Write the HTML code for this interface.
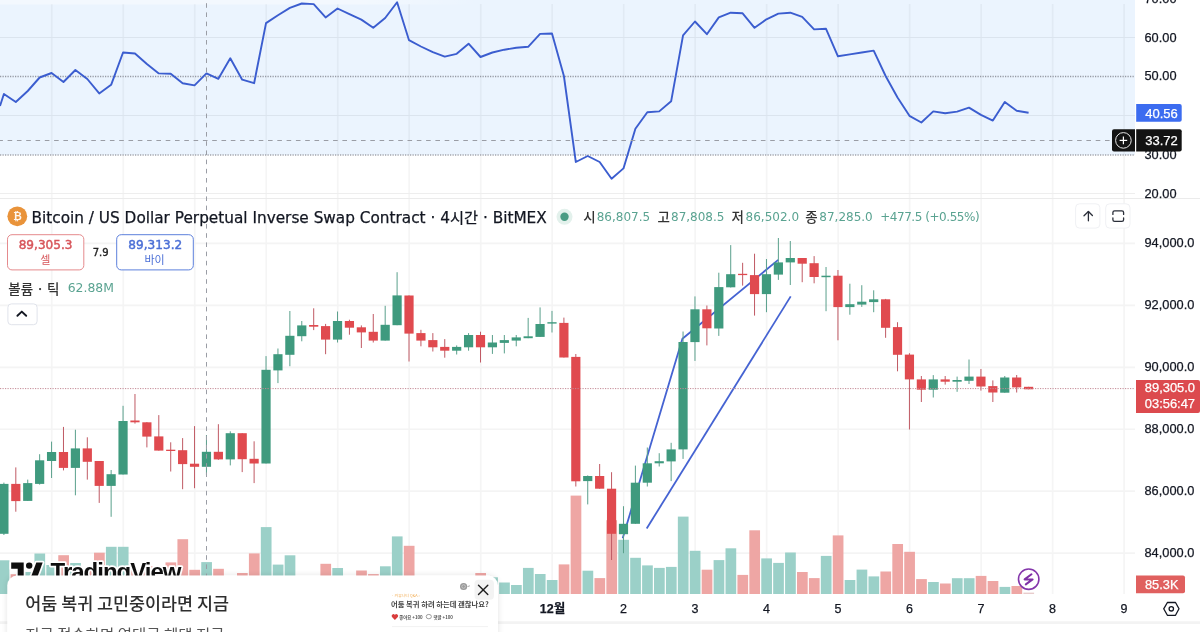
<!DOCTYPE html>
<html><head><meta charset="utf-8">
<style>
html,body{margin:0;padding:0;background:#fff;}
body{width:1200px;height:632px;overflow:hidden;position:relative;font-family:'Liberation Sans', 'Noto Sans CJK KR', sans-serif;}
svg{position:absolute;left:0;top:0;}

.abs{position:absolute;}
</style></head><body>
<svg width="1200" height="632" viewBox="0 0 1200 632" font-family="'Liberation Sans', 'Noto Sans CJK KR', sans-serif">
<line x1="51.76" y1="4" x2="51.76" y2="594" stroke="#f5f5f5" stroke-width="1.7"/>
<line x1="123.25" y1="4" x2="123.25" y2="594" stroke="#f5f5f5" stroke-width="1.7"/>
<line x1="194.74" y1="4" x2="194.74" y2="594" stroke="#f5f5f5" stroke-width="1.7"/>
<line x1="266.23" y1="4" x2="266.23" y2="594" stroke="#f5f5f5" stroke-width="1.7"/>
<line x1="337.72" y1="4" x2="337.72" y2="594" stroke="#f5f5f5" stroke-width="1.7"/>
<line x1="409.21" y1="4" x2="409.21" y2="594" stroke="#f5f5f5" stroke-width="1.7"/>
<line x1="480.7" y1="4" x2="480.7" y2="594" stroke="#f5f5f5" stroke-width="1.7"/>
<line x1="552.19" y1="4" x2="552.19" y2="594" stroke="#f5f5f5" stroke-width="1.7"/>
<line x1="623.68" y1="4" x2="623.68" y2="594" stroke="#f5f5f5" stroke-width="1.7"/>
<line x1="695.17" y1="4" x2="695.17" y2="594" stroke="#f5f5f5" stroke-width="1.7"/>
<line x1="766.66" y1="4" x2="766.66" y2="594" stroke="#f5f5f5" stroke-width="1.7"/>
<line x1="838.15" y1="4" x2="838.15" y2="594" stroke="#f5f5f5" stroke-width="1.7"/>
<line x1="909.64" y1="4" x2="909.64" y2="594" stroke="#f5f5f5" stroke-width="1.7"/>
<line x1="981.13" y1="4" x2="981.13" y2="594" stroke="#f5f5f5" stroke-width="1.7"/>
<line x1="1052.62" y1="4" x2="1052.62" y2="594" stroke="#f5f5f5" stroke-width="1.7"/>
<line x1="1124.11" y1="4" x2="1124.11" y2="594" stroke="#f5f5f5" stroke-width="1.7"/>
<line x1="0" y1="37.5" x2="1135" y2="37.5" stroke="#eeeeee" stroke-width="1"/>
<line x1="0" y1="115.5" x2="1135" y2="115.5" stroke="#eeeeee" stroke-width="1"/>
<line x1="0" y1="193.5" x2="1135" y2="193.5" stroke="#eeeeee" stroke-width="1"/>
<line x1="0" y1="243.4" x2="1135" y2="243.4" stroke="#f4f4f4" stroke-width="1.7"/>
<line x1="0" y1="305.35" x2="1135" y2="305.35" stroke="#f4f4f4" stroke-width="1.7"/>
<line x1="0" y1="367.3" x2="1135" y2="367.3" stroke="#f4f4f4" stroke-width="1.7"/>
<line x1="0" y1="429.25" x2="1135" y2="429.25" stroke="#f4f4f4" stroke-width="1.7"/>
<line x1="0" y1="491.2" x2="1135" y2="491.2" stroke="#f4f4f4" stroke-width="1.7"/>
<line x1="0" y1="553.15" x2="1135" y2="553.15" stroke="#f4f4f4" stroke-width="1.7"/>
<rect x="0" y="0" width="1135" height="155" fill="rgb(33,130,240)" fill-opacity="0.09"/>
<defs><linearGradient id="tg" x1="0" x2="1" y1="0" y2="0"><stop offset="0" stop-color="#fff" stop-opacity="0.4"/><stop offset="0.75" stop-color="#fff" stop-opacity="0.4"/><stop offset="1" stop-color="#fff" stop-opacity="0"/></linearGradient></defs><rect x="0" y="0" width="480" height="4.5" fill="url(#tg)"/>
<line x1="0" y1="76.5" x2="1135" y2="76.5" stroke="#979aa4" stroke-width="1.3" stroke-dasharray="1.25 1.25"/>
<line x1="0" y1="155" x2="1135" y2="155" stroke="#a3a5ad" stroke-width="1.6" stroke-dasharray="1.25 1.25"/>
<line x1="0" y1="198.5" x2="1200" y2="198.5" stroke="#ebebeb" stroke-width="1"/>
<rect x="-1.3" y="560.3" width="10.7" height="33.7" fill="#9bd0c8"/>
<rect x="10.61" y="574.2" width="10.7" height="19.8" fill="#eea6a4"/>
<rect x="22.53" y="572" width="10.7" height="22" fill="#9bd0c8"/>
<rect x="34.44" y="553.5" width="10.7" height="40.5" fill="#9bd0c8"/>
<rect x="46.36" y="565" width="10.7" height="29" fill="#9bd0c8"/>
<rect x="58.27" y="555.2" width="10.7" height="38.8" fill="#eea6a4"/>
<rect x="70.19" y="563" width="10.7" height="31" fill="#9bd0c8"/>
<rect x="82.11" y="570" width="10.7" height="24" fill="#eea6a4"/>
<rect x="94.02" y="552.7" width="10.7" height="41.3" fill="#eea6a4"/>
<rect x="105.93" y="546.8" width="10.7" height="47.2" fill="#9bd0c8"/>
<rect x="117.85" y="546.8" width="10.7" height="47.2" fill="#9bd0c8"/>
<rect x="129.77" y="570" width="10.7" height="24" fill="#eea6a4"/>
<rect x="141.68" y="566" width="10.7" height="28" fill="#eea6a4"/>
<rect x="153.59" y="567" width="10.7" height="27" fill="#eea6a4"/>
<rect x="165.51" y="562.4" width="10.7" height="31.6" fill="#eea6a4"/>
<rect x="177.43" y="539.2" width="10.7" height="54.8" fill="#eea6a4"/>
<rect x="189.34" y="569.8" width="10.7" height="24.2" fill="#eea6a4"/>
<rect x="201.25" y="562.1" width="10.7" height="31.9" fill="#9bd0c8"/>
<rect x="213.17" y="568.8" width="10.7" height="25.2" fill="#eea6a4"/>
<rect x="225.09" y="578" width="10.7" height="16" fill="#9bd0c8"/>
<rect x="237" y="573" width="10.7" height="21" fill="#eea6a4"/>
<rect x="248.91" y="553.4" width="10.7" height="40.6" fill="#eea6a4"/>
<rect x="260.83" y="527.1" width="10.7" height="66.9" fill="#9bd0c8"/>
<rect x="272.74" y="564.6" width="10.7" height="29.4" fill="#9bd0c8"/>
<rect x="284.66" y="555.3" width="10.7" height="38.7" fill="#9bd0c8"/>
<rect x="296.57" y="580" width="10.7" height="14" fill="#9bd0c8"/>
<rect x="308.49" y="582" width="10.7" height="12" fill="#eea6a4"/>
<rect x="320.4" y="563.8" width="10.7" height="30.2" fill="#eea6a4"/>
<rect x="332.32" y="568" width="10.7" height="26" fill="#9bd0c8"/>
<rect x="344.23" y="580" width="10.7" height="14" fill="#eea6a4"/>
<rect x="356.15" y="570.5" width="10.7" height="23.5" fill="#eea6a4"/>
<rect x="368.06" y="574.1" width="10.7" height="19.9" fill="#eea6a4"/>
<rect x="379.98" y="566.3" width="10.7" height="27.7" fill="#9bd0c8"/>
<rect x="391.89" y="536.4" width="10.7" height="57.6" fill="#9bd0c8"/>
<rect x="403.81" y="545.8" width="10.7" height="48.2" fill="#eea6a4"/>
<rect x="415.72" y="580" width="10.7" height="14" fill="#eea6a4"/>
<rect x="427.64" y="582" width="10.7" height="12" fill="#eea6a4"/>
<rect x="439.55" y="584" width="10.7" height="10" fill="#eea6a4"/>
<rect x="451.47" y="585" width="10.7" height="9" fill="#9bd0c8"/>
<rect x="463.38" y="580" width="10.7" height="14" fill="#9bd0c8"/>
<rect x="475.3" y="573" width="10.7" height="21" fill="#eea6a4"/>
<rect x="487.21" y="577.3" width="10.7" height="16.7" fill="#9bd0c8"/>
<rect x="499.13" y="582.5" width="10.7" height="11.5" fill="#9bd0c8"/>
<rect x="511.04" y="585" width="10.7" height="9" fill="#9bd0c8"/>
<rect x="522.96" y="567.9" width="10.7" height="26.1" fill="#9bd0c8"/>
<rect x="534.87" y="574" width="10.7" height="20" fill="#9bd0c8"/>
<rect x="546.79" y="580" width="10.7" height="14" fill="#9bd0c8"/>
<rect x="558.7" y="564.4" width="10.7" height="29.6" fill="#eea6a4"/>
<rect x="570.62" y="495.6" width="10.7" height="98.4" fill="#eea6a4"/>
<rect x="582.53" y="570.7" width="10.7" height="23.3" fill="#9bd0c8"/>
<rect x="594.45" y="578.1" width="10.7" height="15.9" fill="#eea6a4"/>
<rect x="606.36" y="520.2" width="10.7" height="73.8" fill="#eea6a4"/>
<rect x="618.28" y="539.8" width="10.7" height="54.2" fill="#9bd0c8"/>
<rect x="630.19" y="557.8" width="10.7" height="36.2" fill="#9bd0c8"/>
<rect x="642.11" y="565.4" width="10.7" height="28.6" fill="#9bd0c8"/>
<rect x="654.02" y="567.9" width="10.7" height="26.1" fill="#9bd0c8"/>
<rect x="665.94" y="566.9" width="10.7" height="27.1" fill="#9bd0c8"/>
<rect x="677.85" y="516.6" width="10.7" height="77.4" fill="#9bd0c8"/>
<rect x="689.77" y="550.8" width="10.7" height="43.2" fill="#9bd0c8"/>
<rect x="701.68" y="569.7" width="10.7" height="24.3" fill="#eea6a4"/>
<rect x="713.6" y="560.1" width="10.7" height="33.9" fill="#9bd0c8"/>
<rect x="725.51" y="548.3" width="10.7" height="45.7" fill="#9bd0c8"/>
<rect x="737.43" y="574.9" width="10.7" height="19.1" fill="#eea6a4"/>
<rect x="749.34" y="530.3" width="10.7" height="63.7" fill="#eea6a4"/>
<rect x="761.26" y="558.4" width="10.7" height="35.6" fill="#9bd0c8"/>
<rect x="773.17" y="562.9" width="10.7" height="31.1" fill="#9bd0c8"/>
<rect x="785.09" y="552.5" width="10.7" height="41.5" fill="#9bd0c8"/>
<rect x="797" y="572" width="10.7" height="22" fill="#eea6a4"/>
<rect x="808.92" y="578.1" width="10.7" height="15.9" fill="#eea6a4"/>
<rect x="820.83" y="555.9" width="10.7" height="38.1" fill="#9bd0c8"/>
<rect x="832.75" y="535.4" width="10.7" height="58.6" fill="#eea6a4"/>
<rect x="844.66" y="580" width="10.7" height="14" fill="#9bd0c8"/>
<rect x="856.58" y="569.6" width="10.7" height="24.4" fill="#9bd0c8"/>
<rect x="868.49" y="576.4" width="10.7" height="17.6" fill="#9bd0c8"/>
<rect x="880.41" y="571.5" width="10.7" height="22.5" fill="#eea6a4"/>
<rect x="892.32" y="544" width="10.7" height="50" fill="#eea6a4"/>
<rect x="904.24" y="551.8" width="10.7" height="42.2" fill="#eea6a4"/>
<rect x="916.15" y="579.1" width="10.7" height="14.9" fill="#eea6a4"/>
<rect x="928.07" y="582" width="10.7" height="12" fill="#9bd0c8"/>
<rect x="939.98" y="583.5" width="10.7" height="10.5" fill="#eea6a4"/>
<rect x="951.9" y="578.2" width="10.7" height="15.8" fill="#9bd0c8"/>
<rect x="963.81" y="578.2" width="10.7" height="15.8" fill="#9bd0c8"/>
<rect x="975.73" y="575.9" width="10.7" height="18.1" fill="#eea6a4"/>
<rect x="987.64" y="581" width="10.7" height="13" fill="#eea6a4"/>
<rect x="999.56" y="586.9" width="10.7" height="7.1" fill="#9bd0c8"/>
<rect x="1011.47" y="586" width="10.7" height="8" fill="#eea6a4"/>
<rect x="1023.39" y="592.6" width="10.7" height="1.4" fill="#e8cccc"/>
<polyline fill="none" stroke="#4563d2" stroke-width="1.8" stroke-linejoin="round" points="622.7,538.2 682.4,338.8 778.2,259.9"/>
<line x1="646.7" y1="528.5" x2="790.7" y2="296.4" stroke="#4563d2" stroke-width="1.8"/>
<rect x="3.4" y="482.6" width="1" height="52.4" fill="#5aa08c"/>
<rect x="-0.7" y="483.9" width="9.2" height="49.9" fill="#3f9a7e"/>
<rect x="15.31" y="467.4" width="1" height="44.3" fill="#c05a64"/>
<rect x="11.21" y="483.9" width="9.2" height="17.2" fill="#e04a4f"/>
<rect x="27.23" y="479.6" width="1" height="21.3" fill="#5aa08c"/>
<rect x="23.13" y="483.1" width="9.2" height="17.8" fill="#3f9a7e"/>
<rect x="39.14" y="454.2" width="1" height="30.4" fill="#5aa08c"/>
<rect x="35.04" y="460.3" width="9.2" height="23.6" fill="#3f9a7e"/>
<rect x="51.06" y="441.6" width="1" height="36.4" fill="#5aa08c"/>
<rect x="46.96" y="452" width="9.2" height="9" fill="#3f9a7e"/>
<rect x="62.97" y="426.9" width="1" height="43.5" fill="#c05a64"/>
<rect x="58.87" y="452" width="9.2" height="15.9" fill="#e04a4f"/>
<rect x="74.89" y="429.7" width="1" height="65.6" fill="#5aa08c"/>
<rect x="70.79" y="448.4" width="9.2" height="19.5" fill="#3f9a7e"/>
<rect x="86.81" y="437.3" width="1" height="42.3" fill="#c05a64"/>
<rect x="82.71" y="448.4" width="9.2" height="13.4" fill="#e04a4f"/>
<rect x="98.72" y="461" width="1" height="41.9" fill="#c05a64"/>
<rect x="94.62" y="461" width="9.2" height="24.9" fill="#e04a4f"/>
<rect x="110.63" y="470" width="1" height="46.8" fill="#5aa08c"/>
<rect x="106.53" y="474.2" width="9.2" height="11.7" fill="#3f9a7e"/>
<rect x="122.55" y="405.8" width="1" height="68.7" fill="#5aa08c"/>
<rect x="118.45" y="421" width="9.2" height="53.5" fill="#3f9a7e"/>
<rect x="134.47" y="394" width="1" height="29.6" fill="#c05a64"/>
<rect x="130.37" y="420.5" width="9.2" height="1.8" fill="#e04a4f"/>
<rect x="146.38" y="422.1" width="1" height="25.3" fill="#c05a64"/>
<rect x="142.28" y="422.3" width="9.2" height="14.3" fill="#e04a4f"/>
<rect x="158.29" y="415.1" width="1" height="35.5" fill="#c05a64"/>
<rect x="154.19" y="436.4" width="9.2" height="14.2" fill="#e04a4f"/>
<rect x="170.21" y="442.3" width="1" height="29.2" fill="#c05a64"/>
<rect x="166.11" y="449.7" width="9.2" height="1.3" fill="#e04a4f"/>
<rect x="182.12" y="438.1" width="1" height="51.1" fill="#c05a64"/>
<rect x="178.03" y="450.2" width="9.2" height="13.9" fill="#e04a4f"/>
<rect x="194.04" y="426.1" width="1" height="62.1" fill="#c05a64"/>
<rect x="189.94" y="463.7" width="9.2" height="3.1" fill="#e04a4f"/>
<rect x="205.95" y="435" width="1" height="40" fill="#5aa08c"/>
<rect x="201.85" y="451.8" width="9.2" height="15" fill="#3f9a7e"/>
<rect x="217.87" y="424.2" width="1" height="35.6" fill="#c05a64"/>
<rect x="213.77" y="451.8" width="9.2" height="7.6" fill="#e04a4f"/>
<rect x="229.78" y="431.3" width="1" height="34.1" fill="#5aa08c"/>
<rect x="225.69" y="433.2" width="9.2" height="26.2" fill="#3f9a7e"/>
<rect x="241.7" y="433.2" width="1" height="38.9" fill="#c05a64"/>
<rect x="237.6" y="433.2" width="9.2" height="26" fill="#e04a4f"/>
<rect x="253.61" y="441.3" width="1" height="41.8" fill="#c05a64"/>
<rect x="249.51" y="458.8" width="9.2" height="4.7" fill="#e04a4f"/>
<rect x="265.53" y="356.1" width="1" height="107.4" fill="#5aa08c"/>
<rect x="261.43" y="369.8" width="9.2" height="93.7" fill="#3f9a7e"/>
<rect x="277.44" y="348.5" width="1" height="34.6" fill="#5aa08c"/>
<rect x="273.34" y="354.2" width="9.2" height="16.2" fill="#3f9a7e"/>
<rect x="289.36" y="311" width="1" height="55.2" fill="#5aa08c"/>
<rect x="285.26" y="335.8" width="9.2" height="19" fill="#3f9a7e"/>
<rect x="301.27" y="321" width="1" height="20.3" fill="#5aa08c"/>
<rect x="297.17" y="325.4" width="9.2" height="10.8" fill="#3f9a7e"/>
<rect x="313.19" y="308.3" width="1" height="21.8" fill="#c05a64"/>
<rect x="309.09" y="325" width="9.2" height="1.7" fill="#e04a4f"/>
<rect x="325.1" y="323.9" width="1" height="30.3" fill="#c05a64"/>
<rect x="321" y="326.1" width="9.2" height="13.5" fill="#e04a4f"/>
<rect x="337.02" y="311.5" width="1" height="31" fill="#5aa08c"/>
<rect x="332.92" y="321" width="9.2" height="18.6" fill="#3f9a7e"/>
<rect x="348.93" y="319.7" width="1" height="15" fill="#c05a64"/>
<rect x="344.83" y="321" width="9.2" height="6.7" fill="#e04a4f"/>
<rect x="360.85" y="325.4" width="1" height="22.6" fill="#c05a64"/>
<rect x="356.75" y="327.3" width="9.2" height="5.1" fill="#e04a4f"/>
<rect x="372.76" y="314" width="1" height="28.5" fill="#c05a64"/>
<rect x="368.66" y="331.8" width="9.2" height="8.8" fill="#e04a4f"/>
<rect x="384.68" y="305.8" width="1" height="34.8" fill="#5aa08c"/>
<rect x="380.58" y="324.8" width="9.2" height="15.8" fill="#3f9a7e"/>
<rect x="396.59" y="272.2" width="1" height="53" fill="#5aa08c"/>
<rect x="392.49" y="295.4" width="9.2" height="29.8" fill="#3f9a7e"/>
<rect x="408.51" y="295.4" width="1" height="66.1" fill="#c05a64"/>
<rect x="404.41" y="295.5" width="9.2" height="38.1" fill="#e04a4f"/>
<rect x="420.42" y="329.8" width="1" height="16.5" fill="#c05a64"/>
<rect x="416.32" y="333.1" width="9.2" height="7.5" fill="#e04a4f"/>
<rect x="432.34" y="333.1" width="1" height="18.4" fill="#c05a64"/>
<rect x="428.24" y="340.1" width="9.2" height="7.2" fill="#e04a4f"/>
<rect x="444.25" y="339.1" width="1" height="18.6" fill="#c05a64"/>
<rect x="440.15" y="346.9" width="9.2" height="3.8" fill="#e04a4f"/>
<rect x="456.17" y="345.4" width="1" height="9.1" fill="#5aa08c"/>
<rect x="452.07" y="346.9" width="9.2" height="3.8" fill="#3f9a7e"/>
<rect x="468.08" y="333.1" width="1" height="17.6" fill="#5aa08c"/>
<rect x="463.98" y="335" width="9.2" height="12.3" fill="#3f9a7e"/>
<rect x="480" y="331.7" width="1" height="30.8" fill="#c05a64"/>
<rect x="475.9" y="335" width="9.2" height="12.3" fill="#e04a4f"/>
<rect x="491.91" y="335" width="1" height="18.9" fill="#5aa08c"/>
<rect x="487.81" y="342.5" width="9.2" height="4.8" fill="#3f9a7e"/>
<rect x="503.83" y="335" width="1" height="18.4" fill="#5aa08c"/>
<rect x="499.73" y="340.1" width="9.2" height="2.8" fill="#3f9a7e"/>
<rect x="515.74" y="335" width="1" height="11.3" fill="#5aa08c"/>
<rect x="511.64" y="337.4" width="9.2" height="3.2" fill="#3f9a7e"/>
<rect x="527.66" y="317.9" width="1" height="20.3" fill="#5aa08c"/>
<rect x="523.56" y="336.3" width="9.2" height="1.9" fill="#3f9a7e"/>
<rect x="539.57" y="307.4" width="1" height="29.5" fill="#5aa08c"/>
<rect x="535.47" y="324" width="9.2" height="12.9" fill="#3f9a7e"/>
<rect x="551.49" y="310.9" width="1" height="21.6" fill="#5aa08c"/>
<rect x="547.39" y="322.2" width="9.2" height="1.4" fill="#3f9a7e"/>
<rect x="563.4" y="317.6" width="1" height="39.9" fill="#c05a64"/>
<rect x="559.3" y="322.9" width="9.2" height="34.6" fill="#e04a4f"/>
<rect x="575.32" y="354" width="1" height="132.5" fill="#c05a64"/>
<rect x="571.22" y="356.9" width="9.2" height="124.4" fill="#e04a4f"/>
<rect x="587.23" y="475.4" width="1" height="29" fill="#5aa08c"/>
<rect x="583.13" y="476" width="9.2" height="5.1" fill="#3f9a7e"/>
<rect x="599.15" y="464" width="1" height="24.7" fill="#c05a64"/>
<rect x="595.05" y="476" width="9.2" height="12.7" fill="#e04a4f"/>
<rect x="611.06" y="472.2" width="1" height="87.8" fill="#c05a64"/>
<rect x="606.96" y="488.7" width="9.2" height="45.1" fill="#e04a4f"/>
<rect x="622.98" y="506.2" width="1" height="47" fill="#5aa08c"/>
<rect x="618.88" y="523.8" width="9.2" height="10.4" fill="#3f9a7e"/>
<rect x="634.89" y="465.6" width="1" height="58.2" fill="#5aa08c"/>
<rect x="630.79" y="482.7" width="9.2" height="41.1" fill="#3f9a7e"/>
<rect x="646.81" y="447.5" width="1" height="39" fill="#5aa08c"/>
<rect x="642.71" y="463.3" width="9.2" height="19.4" fill="#3f9a7e"/>
<rect x="658.72" y="453.2" width="1" height="13.3" fill="#5aa08c"/>
<rect x="654.62" y="461.2" width="9.2" height="2.1" fill="#3f9a7e"/>
<rect x="670.64" y="442.8" width="1" height="38.3" fill="#5aa08c"/>
<rect x="666.54" y="449.4" width="9.2" height="12" fill="#3f9a7e"/>
<rect x="682.55" y="331.5" width="1" height="127.4" fill="#5aa08c"/>
<rect x="678.45" y="342" width="9.2" height="107.4" fill="#3f9a7e"/>
<rect x="694.47" y="296.4" width="1" height="64.5" fill="#5aa08c"/>
<rect x="690.37" y="309.3" width="9.2" height="32.8" fill="#3f9a7e"/>
<rect x="706.38" y="305.5" width="1" height="39.9" fill="#c05a64"/>
<rect x="702.28" y="309.3" width="9.2" height="19" fill="#e04a4f"/>
<rect x="718.3" y="272.7" width="1" height="63.2" fill="#5aa08c"/>
<rect x="714.2" y="287.1" width="9.2" height="41.4" fill="#3f9a7e"/>
<rect x="730.21" y="245.1" width="1" height="42.4" fill="#5aa08c"/>
<rect x="726.11" y="274.2" width="9.2" height="13.1" fill="#3f9a7e"/>
<rect x="742.13" y="262.8" width="1" height="22.8" fill="#c05a64"/>
<rect x="738.03" y="273.8" width="9.2" height="1.3" fill="#e04a4f"/>
<rect x="754.04" y="253.7" width="1" height="61.9" fill="#c05a64"/>
<rect x="749.94" y="275.1" width="9.2" height="19" fill="#e04a4f"/>
<rect x="765.96" y="259" width="1" height="53.2" fill="#5aa08c"/>
<rect x="761.86" y="274.2" width="9.2" height="19.9" fill="#3f9a7e"/>
<rect x="777.87" y="238" width="1" height="41.9" fill="#5aa08c"/>
<rect x="773.77" y="262.4" width="9.2" height="12.2" fill="#3f9a7e"/>
<rect x="789.79" y="241" width="1" height="44" fill="#5aa08c"/>
<rect x="785.69" y="258" width="9.2" height="4.4" fill="#3f9a7e"/>
<rect x="801.7" y="258" width="1" height="24.2" fill="#c05a64"/>
<rect x="797.6" y="258" width="9.2" height="5.7" fill="#e04a4f"/>
<rect x="813.62" y="256.1" width="1" height="27.2" fill="#c05a64"/>
<rect x="809.52" y="263.2" width="9.2" height="13.8" fill="#e04a4f"/>
<rect x="825.53" y="267" width="1" height="44.2" fill="#5aa08c"/>
<rect x="821.43" y="275.7" width="9.2" height="1.5" fill="#3f9a7e"/>
<rect x="837.45" y="270" width="1" height="70.3" fill="#c05a64"/>
<rect x="833.35" y="275.7" width="9.2" height="31.4" fill="#e04a4f"/>
<rect x="849.36" y="283.7" width="1" height="31" fill="#5aa08c"/>
<rect x="845.26" y="304.2" width="9.2" height="2.9" fill="#3f9a7e"/>
<rect x="861.28" y="285.2" width="1" height="21.7" fill="#5aa08c"/>
<rect x="857.18" y="301.7" width="9.2" height="2.9" fill="#3f9a7e"/>
<rect x="873.19" y="290.3" width="1" height="21.9" fill="#5aa08c"/>
<rect x="869.09" y="299.3" width="9.2" height="2.8" fill="#3f9a7e"/>
<rect x="885.11" y="298.9" width="1" height="38.9" fill="#c05a64"/>
<rect x="881.01" y="299.3" width="9.2" height="28.5" fill="#e04a4f"/>
<rect x="897.02" y="322.2" width="1" height="49.1" fill="#c05a64"/>
<rect x="892.92" y="327.1" width="9.2" height="27.7" fill="#e04a4f"/>
<rect x="908.94" y="353.2" width="1" height="76.3" fill="#c05a64"/>
<rect x="904.84" y="354.6" width="9.2" height="24.8" fill="#e04a4f"/>
<rect x="920.85" y="376" width="1" height="26" fill="#c05a64"/>
<rect x="916.75" y="379.4" width="9.2" height="10.3" fill="#e04a4f"/>
<rect x="932.77" y="375.1" width="1" height="22.4" fill="#5aa08c"/>
<rect x="928.67" y="379.4" width="9.2" height="10.3" fill="#3f9a7e"/>
<rect x="944.68" y="376" width="1" height="8.6" fill="#c05a64"/>
<rect x="940.58" y="379.4" width="9.2" height="2.3" fill="#e04a4f"/>
<rect x="956.6" y="376.6" width="1" height="15.2" fill="#5aa08c"/>
<rect x="952.5" y="380" width="9.2" height="1.7" fill="#3f9a7e"/>
<rect x="968.51" y="359.5" width="1" height="24.5" fill="#5aa08c"/>
<rect x="964.41" y="376.6" width="9.2" height="4.2" fill="#3f9a7e"/>
<rect x="980.43" y="369" width="1" height="21.6" fill="#c05a64"/>
<rect x="976.33" y="376.6" width="9.2" height="9.9" fill="#e04a4f"/>
<rect x="992.34" y="380.4" width="1" height="21.6" fill="#c05a64"/>
<rect x="988.24" y="386.1" width="9.2" height="6.4" fill="#e04a4f"/>
<rect x="1004.26" y="376" width="1" height="16.7" fill="#5aa08c"/>
<rect x="1000.16" y="377.5" width="9.2" height="15.2" fill="#3f9a7e"/>
<rect x="1016.17" y="375" width="1" height="17.5" fill="#c05a64"/>
<rect x="1012.07" y="377.5" width="9.2" height="9.9" fill="#e04a4f"/>
<rect x="1028.09" y="386.8" width="1" height="2.5" fill="#c05a64"/>
<rect x="1023.99" y="386.8" width="9.2" height="2.5" fill="#e04a4f"/>
<line x1="0" y1="388.6" x2="1135" y2="388.6" stroke="#c48a96" stroke-width="1" stroke-dasharray="1.2 1.3"/>
<polyline fill="none" stroke="#3b5dcf" stroke-width="1.9" stroke-linejoin="round" points="0,106 3.9,94 15.81,102 27.73,91 39.64,77.5 51.56,73 63.47,82 75.39,70 87.31,79 99.22,93.4 111.13,84.8 123.05,52.5 134.97,53.5 146.88,64 158.79,73.4 170.71,73.7 182.62,83.2 194.54,85.4 206.45,73.4 218.37,78.8 230.28,58.2 242.2,79.7 254.11,83.2 266.03,23.1 277.94,15.2 289.86,7.9 301.77,3.5 313.69,4.1 325.6,17.4 337.52,8.5 349.43,14.2 361.35,19.6 373.26,27.8 385.18,18 397.09,2.2 409.01,40.2 420.92,46.5 432.84,52.2 444.75,56.6 456.67,53.8 468.58,43.7 480.5,57 492.41,52.5 504.33,49.7 516.24,47.8 528.16,46.8 540.07,33.9 551.99,33.5 563.9,76 575.82,162 587.73,156 599.65,162 611.56,178.8 623.48,168.4 635.39,128.8 647.31,112.3 659.22,111.4 671.14,101.3 683.05,35.4 694.97,21.5 706.88,34.2 718.8,17.4 730.71,12.7 742.63,13.3 754.54,27.8 766.46,19.3 778.37,13.6 790.29,12.7 802.2,16.8 814.12,29.4 826.03,28.8 837.95,56.3 849.86,54.4 861.78,52.5 873.69,50.6 885.61,76 897.52,97.5 909.44,115.8 921.35,122.5 933.27,111.4 945.18,113.2 957.1,111.6 969.01,107.6 980.93,114.9 992.84,120.6 1004.76,101.9 1016.67,110.8 1028.59,112.7"/>
<line x1="206.5" y1="0" x2="206.5" y2="594" stroke="#9a9da5" stroke-width="1" stroke-dasharray="4.6 4.6" stroke-dashoffset="6"/>
<line x1="0" y1="140.5" x2="1112" y2="140.5" stroke="#9a9da5" stroke-width="1" stroke-dasharray="4.6 4.7" stroke-dashoffset="1.7"/>
<circle cx="17.3" cy="216.3" r="9.9" fill="#e9933a"/>
<text x="17.5" y="220.3" font-size="10.5" font-weight="bold" fill="#fff" fill-opacity="0.92" text-anchor="middle" font-family="'DejaVu Sans',sans-serif">&#x20BF;</text>
<text x="31.5" y="223.1" font-size="15.3" fill="#131722" stroke="#131722" stroke-width="0.25" font-family="'DejaVu Sans', 'Noto Sans CJK KR', sans-serif">Bitcoin / US Dollar Perpetual Inverse Swap Contract · 4시간 · BitMEX</text>
<circle cx="564.5" cy="216.8" r="8" fill="#e3f1ec"/>
<circle cx="564.5" cy="216.8" r="4.2" fill="#4a9c84"/>
<text x="583.3" y="221.8" font-size="13.5" font-weight="500" fill="#333" font-family="'Noto Sans CJK KR', 'DejaVu Sans', sans-serif">시</text>
<text x="596.7" y="221.2" font-size="12" fill="#5aa391" font-family="'DejaVu Sans', 'Noto Sans CJK KR', sans-serif">86,807.5</text>
<text x="657.5" y="221.8" font-size="13.5" font-weight="500" fill="#333" font-family="'Noto Sans CJK KR', 'DejaVu Sans', sans-serif">고</text>
<text x="671" y="221.2" font-size="12" fill="#5aa391" font-family="'DejaVu Sans', 'Noto Sans CJK KR', sans-serif">87,808.5</text>
<text x="731.5" y="221.8" font-size="13.5" font-weight="500" fill="#333" font-family="'Noto Sans CJK KR', 'DejaVu Sans', sans-serif">저</text>
<text x="745.6" y="221.2" font-size="12" fill="#5aa391" font-family="'DejaVu Sans', 'Noto Sans CJK KR', sans-serif">86,502.0</text>
<text x="805.3" y="221.8" font-size="13.5" font-weight="500" fill="#333" font-family="'Noto Sans CJK KR', 'DejaVu Sans', sans-serif">종</text>
<text x="819.3" y="221.2" font-size="12" fill="#5aa391" font-family="'DejaVu Sans', 'Noto Sans CJK KR', sans-serif">87,285.0</text>
<text x="880.2" y="221.2" font-size="12" letter-spacing="-0.45" fill="#5aa391" font-family="'DejaVu Sans', 'Noto Sans CJK KR', sans-serif">+477.5 (+0.55%)</text>
<rect x="7.5" y="234.7" width="76.3" height="35.2" rx="4.5" fill="#fff" stroke="#e58a8d" stroke-width="1"/>
<rect x="116.7" y="234.7" width="76.6" height="35.2" rx="4.5" fill="#fff" stroke="#5d80dc" stroke-width="1"/>
<text x="45.6" y="249.3" font-size="12.1" fill="#d7555a" stroke="#d7555a" stroke-width="0.45" text-anchor="middle" font-family="'DejaVu Sans', 'Noto Sans CJK KR', sans-serif">89,305.3</text>
<text x="45.4" y="264.2" font-size="11" fill="#d7555a" text-anchor="middle" font-family="'Noto Sans CJK KR', 'DejaVu Sans', sans-serif">셀</text>
<text x="100.6" y="255.5" font-size="10" fill="#222" stroke="#222" stroke-width="0.35" text-anchor="middle" font-family="'DejaVu Sans', 'Noto Sans CJK KR', sans-serif">7.9</text>
<text x="155.3" y="249.3" font-size="12.1" fill="#4b6fd6" stroke="#4b6fd6" stroke-width="0.45" text-anchor="middle" font-family="'DejaVu Sans', 'Noto Sans CJK KR', sans-serif">89,313.2</text>
<text x="154.6" y="264.2" font-size="11" fill="#4b6fd6" text-anchor="middle" font-family="'Noto Sans CJK KR', 'DejaVu Sans', sans-serif">바이</text>
<text x="8.3" y="294" font-size="13.5" font-weight="500" fill="#333" font-family="'Noto Sans CJK KR', 'DejaVu Sans', sans-serif">볼륨 · 틱</text>
<text x="67.7" y="292.2" font-size="12.4" fill="#5aa391" font-family="'DejaVu Sans', 'Noto Sans CJK KR', sans-serif">62.88M</text>
<rect x="7.9" y="303.9" width="29.2" height="20.8" rx="3.5" fill="#fff" stroke="#e0e3eb" stroke-width="1"/>
<polyline points="17.4,315.8 21.8,311.6 26.2,315.8" fill="none" stroke="#131722" stroke-width="1.9" stroke-linecap="round" stroke-linejoin="round"/>
<rect x="1075.6" y="203.8" width="24.3" height="24.3" rx="4" fill="#fff" stroke="#f0f1f4" stroke-width="1"/>
<rect x="1105.7" y="203.8" width="24.3" height="24.3" rx="4" fill="#fff" stroke="#f0f1f4" stroke-width="1"/>
<g fill="none" stroke="#2a2e39" stroke-width="1.3" stroke-linecap="round" stroke-linejoin="round"><line x1="1088.4" y1="211.6" x2="1088.4" y2="220.8"/><polyline points="1084,215.7 1088.4,211.5 1092.4,215.5"/><path d="M1112.9 214.4 V212.6 Q1112.9 210.9 1114.6 210.9 H1121.9 Q1123.6 210.9 1123.6 212.6 V214.4"/><path d="M1112.9 218 V219.7 Q1112.9 221.4 1114.6 221.4 H1121.9 Q1123.6 221.4 1123.6 219.7 V218"/></g>
<circle cx="1028.7" cy="579.2" r="10.2" fill="#fff" stroke="#8436ab" stroke-width="1.6"/>
<path d="M1031.5 574.3 L1024.6 579.4 L1032.6 579.4 L1025.8 584.4" fill="none" stroke="#7f31a6" stroke-width="2" stroke-linecap="round" stroke-linejoin="round"/>
<polygon points="1167.4,602.5 1175.5,602.5 1179,608.8 1175.5,615.3 1167.4,615.3 1163.7,608.8" fill="none" stroke="#131722" stroke-width="1.3" stroke-linejoin="round"/>
<circle cx="1171.3" cy="608.8" r="2.2" fill="none" stroke="#131722" stroke-width="1.3"/>
<g fill="#fff" stroke="#fff" stroke-width="3.5" stroke-linejoin="round"><path d="M11.2 562.5 H23.7 V585 H17.7 V568.7 H11.2 Z"/><circle cx="29.2" cy="565.6" r="3.2"/><path d="M36.3 562.5 H42.7 L34.4 585 H28 Z"/></g>
<g fill="#0f0f0f"><path d="M11.2 562.5 H23.7 V585 H17.7 V568.7 H11.2 Z"/><circle cx="29.2" cy="565.6" r="3.2"/><path d="M36.3 562.5 H42.7 L34.4 585 H28 Z"/></g>
<text x="50.6" y="579.7" font-size="24" font-weight="bold" letter-spacing="-1" fill="#0f0f0f" stroke="#fff" stroke-width="3.5" stroke-linejoin="round" paint-order="stroke" font-family="'Liberation Sans',sans-serif">TradingView</text>
<!-- axis -->
<rect x="0" y="621.3" width="1200" height="2.7" fill="#f3f3f3"/>
<text x="1144.5" y="3.2" font-size="12.8" fill="#131722" stroke="#131722" stroke-width="0.25" text-anchor="start" font-weight="normal" >70.00</text>
<text x="1144.5" y="41.7" font-size="12.8" fill="#131722" stroke="#131722" stroke-width="0.25" text-anchor="start" font-weight="normal" >60.00</text>
<text x="1144.5" y="80.2" font-size="12.8" fill="#131722" stroke="#131722" stroke-width="0.25" text-anchor="start" font-weight="normal" >50.00</text>
<text x="1144.5" y="158.9" font-size="12.8" fill="#131722" stroke="#131722" stroke-width="0.25" text-anchor="start" font-weight="normal" >30.00</text>
<text x="1144.5" y="197.9" font-size="12.8" fill="#131722" stroke="#131722" stroke-width="0.25" text-anchor="start" font-weight="normal" >20.00</text>
<text x="1144.5" y="246.9" font-size="12.8" fill="#131722" stroke="#131722" stroke-width="0.25" text-anchor="start" font-weight="normal" >94,000.0</text>
<text x="1144.5" y="308.9" font-size="12.8" fill="#131722" stroke="#131722" stroke-width="0.25" text-anchor="start" font-weight="normal" >92,000.0</text>
<text x="1144.5" y="370.9" font-size="12.8" fill="#131722" stroke="#131722" stroke-width="0.25" text-anchor="start" font-weight="normal" >90,000.0</text>
<text x="1144.5" y="432.9" font-size="12.8" fill="#131722" stroke="#131722" stroke-width="0.25" text-anchor="start" font-weight="normal" >88,000.0</text>
<text x="1144.5" y="494.9" font-size="12.8" fill="#131722" stroke="#131722" stroke-width="0.25" text-anchor="start" font-weight="normal" >86,000.0</text>
<text x="1144.5" y="556.9" font-size="12.8" fill="#131722" stroke="#131722" stroke-width="0.25" text-anchor="start" font-weight="normal" >84,000.0</text>
<text x="623.5" y="613" font-size="12.5" fill="#131722" stroke="#131722" stroke-width="0.25" text-anchor="middle" font-weight="normal" >2</text>
<text x="695" y="613" font-size="12.5" fill="#131722" stroke="#131722" stroke-width="0.25" text-anchor="middle" font-weight="normal" >3</text>
<text x="766.5" y="613" font-size="12.5" fill="#131722" stroke="#131722" stroke-width="0.25" text-anchor="middle" font-weight="normal" >4</text>
<text x="838" y="613" font-size="12.5" fill="#131722" stroke="#131722" stroke-width="0.25" text-anchor="middle" font-weight="normal" >5</text>
<text x="909.5" y="613" font-size="12.5" fill="#131722" stroke="#131722" stroke-width="0.25" text-anchor="middle" font-weight="normal" >6</text>
<text x="981" y="613" font-size="12.5" fill="#131722" stroke="#131722" stroke-width="0.25" text-anchor="middle" font-weight="normal" >7</text>
<text x="1052.5" y="613" font-size="12.5" fill="#131722" stroke="#131722" stroke-width="0.25" text-anchor="middle" font-weight="normal" >8</text>
<text x="1124" y="613" font-size="12.5" fill="#131722" stroke="#131722" stroke-width="0.25" text-anchor="middle" font-weight="normal" >9</text>
<text x="552.5" y="613" font-size="12.5" fill="#131722" stroke="#131722" stroke-width="0.25" text-anchor="middle" font-weight="bold" >12월</text>
<defs><filter id="sh" x="-10%" y="-50%" width="120%" height="200%"><feGaussianBlur in="SourceAlpha" stdDeviation="3"/><feOffset dy="0"/><feComponentTransfer><feFuncA type="linear" slope="0.12"/></feComponentTransfer><feMerge><feMergeNode/><feMergeNode in="SourceGraphic"/></feMerge></filter></defs>
<rect x="7.3" y="575.6" width="490.7" height="80" rx="10" fill="#fff" filter="url(#sh)"/>
<text x="25.3" y="609.8" font-size="17.4" font-weight="500" fill="#2e2e2e" font-family="'Noto Sans CJK KR', 'DejaVu Sans', sans-serif">어둠 복귀 고민중이라면 지금</text>
<text x="25.3" y="641" font-size="15.5" fill="#555" font-family="'Noto Sans CJK KR', 'DejaVu Sans', sans-serif">지금 접속하면 역대급 혜택 지급</text>
<text x="391.5" y="596.8" font-size="3.9" fill="#f2ad55" font-family="'Noto Sans CJK KR', 'DejaVu Sans', sans-serif">· 커뮤니티 Q&amp;A ›</text>
<text x="391" y="607.3" font-size="7.3" font-weight="bold" fill="#444" font-family="'Noto Sans CJK KR', 'DejaVu Sans', sans-serif">어둠 복귀 하려 하는데 괜찮나요?</text>
<path d="M394.9 620 l-2.9 -3 a1.6 1.6 0 0 1 2.9 -2.1 a1.6 1.6 0 0 1 2.9 2.1 z" fill="#d93c3c"/>
<text x="399.2" y="618.6" font-size="4.4" font-weight="bold" fill="#555" font-family="'Noto Sans CJK KR', 'DejaVu Sans', sans-serif">좋아요 +100</text>
<ellipse cx="428.8" cy="616.6" rx="2.6" ry="2.2" fill="none" stroke="#777" stroke-width="0.7"/>
<text x="433.5" y="618.6" font-size="4.4" font-weight="bold" fill="#555" font-family="'Noto Sans CJK KR', 'DejaVu Sans', sans-serif">댓글 +100</text>
<line x1="392" y1="626.6" x2="488" y2="626.6" stroke="#eee" stroke-width="0.8"/>
<circle cx="463.6" cy="586.5" r="3.6" fill="#9a9a9a"/><circle cx="463.6" cy="586.5" r="1.8" fill="none" stroke="#ddd" stroke-width="0.6"/>
<path d="M467.4 586.5 h1.6 M469.2 585 v1.8" stroke="#999" stroke-width="0.6"/>
<rect x="474.5" y="579.8" width="19.5" height="20" rx="4" fill="#f3f3f3"/>
<g stroke="#1e1e1e" stroke-width="1.4" stroke-linecap="round"><line x1="478.5" y1="585.2" x2="487.8" y2="594.4"/><line x1="487.8" y1="585.2" x2="478.5" y2="594.4"/></g>
<!-- RSI labels -->
<path d="M1136.2 104.1 H1179.7 Q1181.7 104.1 1181.7 106.1 V119.7 Q1181.7 121.7 1179.7 121.7 H1136.2 Z" fill="#3c6cf0"/>
<text x="1145.2" y="117.6" font-size="13" fill="#fff" stroke="#fff" stroke-width="0.25">40.56</text>
<path d="M1114 129.2 H1135 V151.5 H1114 Q1112 151.5 1112 149.5 V131.2 Q1112 129.2 1114 129.2 Z" fill="#131313"/>
<circle cx="1123.4" cy="140.4" r="7.8" fill="none" stroke="#e8e8e8" stroke-width="1"/>
<line x1="1119.6" y1="140.4" x2="1127.2" y2="140.4" stroke="#fff" stroke-width="1.2"/>
<line x1="1123.4" y1="136.6" x2="1123.4" y2="144.2" stroke="#fff" stroke-width="1.2"/>
<path d="M1136.2 129.2 H1179.7 Q1181.7 129.2 1181.7 131.2 V149.5 Q1181.7 151.5 1179.7 151.5 H1136.2 Z" fill="#131313"/>
<text x="1145.2" y="145.2" font-size="13" fill="#fff" stroke="#fff" stroke-width="0.25">33.72</text>
<!-- price labels -->
<path d="M1136 380 H1198 Q1200 380 1200 382 V411 Q1200 413 1198 413 H1136 Z" fill="#dc4a4e"/>
<text x="1144.8" y="392.4" font-size="12.9" fill="#fff" stroke="#fff" stroke-width="0.25">89,305.0</text>
<text x="1144.8" y="407.7" font-size="12.9" fill="#fff" stroke="#fff" stroke-width="0.25">03:56:47</text>
<path d="M1136 575.6 H1183 Q1185 575.6 1185 577.6 V591.3 Q1185 593.3 1183 593.3 H1136 Z" fill="#e0605f"/>
<text x="1145" y="589" font-size="12.8" fill="#fff" stroke="#fff" stroke-width="0.25">85.3K</text>
</svg>
</body></html>
